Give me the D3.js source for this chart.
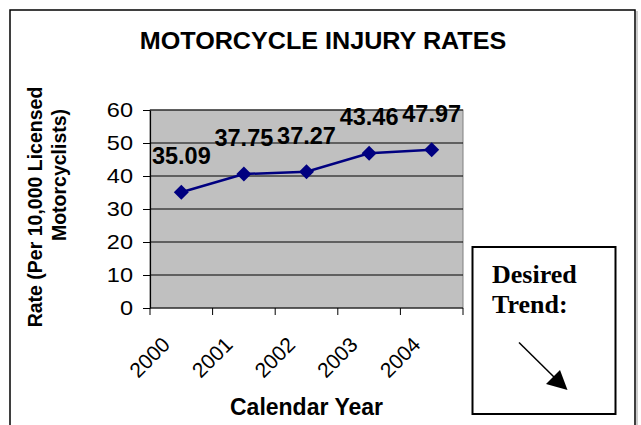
<!DOCTYPE html>
<html lang="en">
  <head>
    <meta charset="utf-8">
    <title>Motorcycle Injury Rates</title>
    <style>
      body { margin: 0; background: #fff; }
      text { font-family: "Liberation Sans", Arial, sans-serif; fill: #000; }
      .serif { font-family: "Liberation Serif", "Times New Roman", serif; }
    </style>
  </head>
  <body>
    <svg id="wrapper" width="641" height="425"></svg>

    <script src="https://cdnjs.cloudflare.com/ajax/libs/d3/7.8.5/d3.min.js"></script>
    <script>
    // chart data
    const years = ['2000', '2001', '2002', '2003', '2004'];
    const rates = [35.09, 40.6, 41.3, 46.9, 47.97];          // where the markers sit
    const rateLabels = ['35.09', '37.75', '37.27', '43.46', '47.97'];
    const yTicks = [0, 10, 20, 30, 40, 50, 60];

    const plot = {left: 150, right: 463, top: 110, bottom: 308};
    const navy = '#000080';

    let svg = d3.select('#wrapper');

    // stretch text horizontally by factor k (the original is a bit widened)
    function stretch(sel, k) {
      sel.each(function() {
        let len = this.getComputedTextLength();
        d3.select(this).attr('textLength', len * k).attr('lengthAdjust', 'spacingAndGlyphs');
      });
    }

    // outer frame (bottom runs off the page)
    svg.append('path')
      .attr('d', 'M10,440 L10,10 L635,10 L635,440')
      .attr('fill', 'none')
      .attr('stroke', '#000')
      .attr('stroke-width', 1.5);
    svg.append('line')
      .attr('x1', 637).attr('x2', 637).attr('y1', 11).attr('y2', 425)
      .attr('stroke', '#999').attr('stroke-width', 1);

    // title
    svg.append('text')
      .attr('x', 323).attr('y', 49)
      .attr('text-anchor', 'middle')
      .attr('font-size', 23.5)
      .attr('font-weight', 'bold')
      .text('MOTORCYCLE INJURY RATES')
      .call(stretch, 1.07);

    // scales
    let x = d3.scaleBand().domain(years).range([plot.left, plot.right]);
    let y = d3.scaleLinear().domain([0, 60]).range([plot.bottom, plot.top]);

    // plot area
    svg.append('rect')
      .attr('x', plot.left).attr('y', plot.top)
      .attr('width', plot.right - plot.left)
      .attr('height', plot.bottom - plot.top)
      .attr('fill', '#c0c0c0')
      .attr('stroke', '#808080')
      .attr('stroke-width', 1);

    // gridlines
    svg.append('g')
      .selectAll('line')
      .data(yTicks.filter(d => d > 0))
      .join('line')
      .attr('x1', plot.left).attr('x2', plot.right)
      .attr('y1', d => y(d)).attr('y2', d => y(d))
      .attr('stroke', '#000')
      .attr('stroke-width', 1);

    // y axis
    let yAxis = svg.append('g')
      .attr('transform', 'translate(' + plot.left + ',0)')
      .call(d3.axisLeft(y).tickValues(yTicks).tickSizeInner(7).tickSizeOuter(0).tickPadding(10));
    yAxis.select('.domain').attr('stroke', '#000').attr('stroke-width', 1.2);
    yAxis.selectAll('line').attr('stroke', '#000');
    yAxis.selectAll('text')
      .attr('font-size', 21)
      .attr('font-family', '"Liberation Sans", Arial, sans-serif')
      .attr('fill', '#000')
      .call(stretch, 1.12);

    // x axis: ticks sit on the band edges
    let xg = svg.append('g');
    xg.append('line')
      .attr('x1', plot.left).attr('x2', plot.right)
      .attr('y1', plot.bottom).attr('y2', plot.bottom)
      .attr('stroke', '#000').attr('stroke-width', 1.2);
    xg.selectAll('line.tick')
      .data(years.concat(['end']))
      .join('line')
      .attr('class', 'tick')
      .attr('x1', (d, i) => i < years.length ? x(d) : plot.right)
      .attr('x2', (d, i) => i < years.length ? x(d) : plot.right)
      .attr('y1', plot.bottom).attr('y2', plot.bottom + 7)
      .attr('stroke', '#000');
    xg.selectAll('text')
      .data(years)
      .join('text')
      .attr('transform', d => 'translate(' + (x(d) + x.bandwidth() / 2 - 10) + ',' + (plot.bottom + 38) + ') rotate(-45)')
      .attr('text-anchor', 'end')
      .attr('font-size', 21)
      .text(d => d);

    // axis titles
    svg.append('text')
      .attr('x', (plot.left + plot.right) / 2).attr('y', 415)
      .attr('text-anchor', 'middle')
      .attr('font-size', 23)
      .attr('font-weight', 'bold')
      .text('Calendar Year');

    svg.append('text')
      .attr('transform', 'translate(42,207) rotate(-90)')
      .attr('text-anchor', 'middle')
      .attr('font-size', 19.5)
      .attr('font-weight', 'bold')
      .text('Rate (Per 10,000 Licensed');
    svg.append('text')
      .attr('transform', 'translate(66,175) rotate(-90)')
      .attr('text-anchor', 'middle')
      .attr('font-size', 19.5)
      .attr('font-weight', 'bold')
      .text('Motorcyclists)');

    // series line
    let line = d3.line()
      .x((d, i) => x(years[i]) + x.bandwidth() / 2)
      .y(d => y(d));
    svg.append('path')
      .datum(rates)
      .attr('fill', 'none')
      .attr('stroke', navy)
      .attr('stroke-width', 2.5)
      .attr('d', line);

    // diamond markers
    svg.append('g')
      .selectAll('path')
      .data(rates)
      .join('path')
      .attr('transform', (d, i) => 'translate(' + (x(years[i]) + x.bandwidth() / 2) + ',' + y(d) + ')')
      .attr('d', 'M0,-7.5 L7.5,0 L0,7.5 L-7.5,0 Z')
      .attr('fill', navy);

    // data labels
    svg.append('g')
      .selectAll('text')
      .data(rates)
      .join('text')
      .attr('x', (d, i) => x(years[i]) + x.bandwidth() / 2)
      .attr('y', d => y(d) - 28)
      .attr('text-anchor', 'middle')
      .attr('font-size', 23.5)
      .attr('font-weight', 'bold')
      .text((d, i) => rateLabels[i]);

    // desired trend box
    let box = svg.append('g');
    box.append('rect')
      .attr('x', 472.5).attr('y', 247)
      .attr('width', 143).attr('height', 167)
      .attr('fill', '#fff')
      .attr('stroke', '#000')
      .attr('stroke-width', 2);
    box.append('text')
      .attr('class', 'serif')
      .attr('x', 492).attr('y', 283)
      .attr('font-size', 26)
      .attr('font-weight', 'bold')
      .text('Desired');
    box.append('text')
      .attr('class', 'serif')
      .attr('x', 492).attr('y', 313)
      .attr('font-size', 26)
      .attr('font-weight', 'bold')
      .text('Trend:');
    box.append('line')
      .attr('x1', 519).attr('y1', 342.5)
      .attr('x2', 555).attr('y2', 378)
      .attr('stroke', '#000')
      .attr('stroke-width', 1.5);
    box.append('path')
      .attr('d', 'M567.5,390 L546,384 L560,370 Z')
      .attr('fill', '#000');
    </script>
  </body>
</html>
